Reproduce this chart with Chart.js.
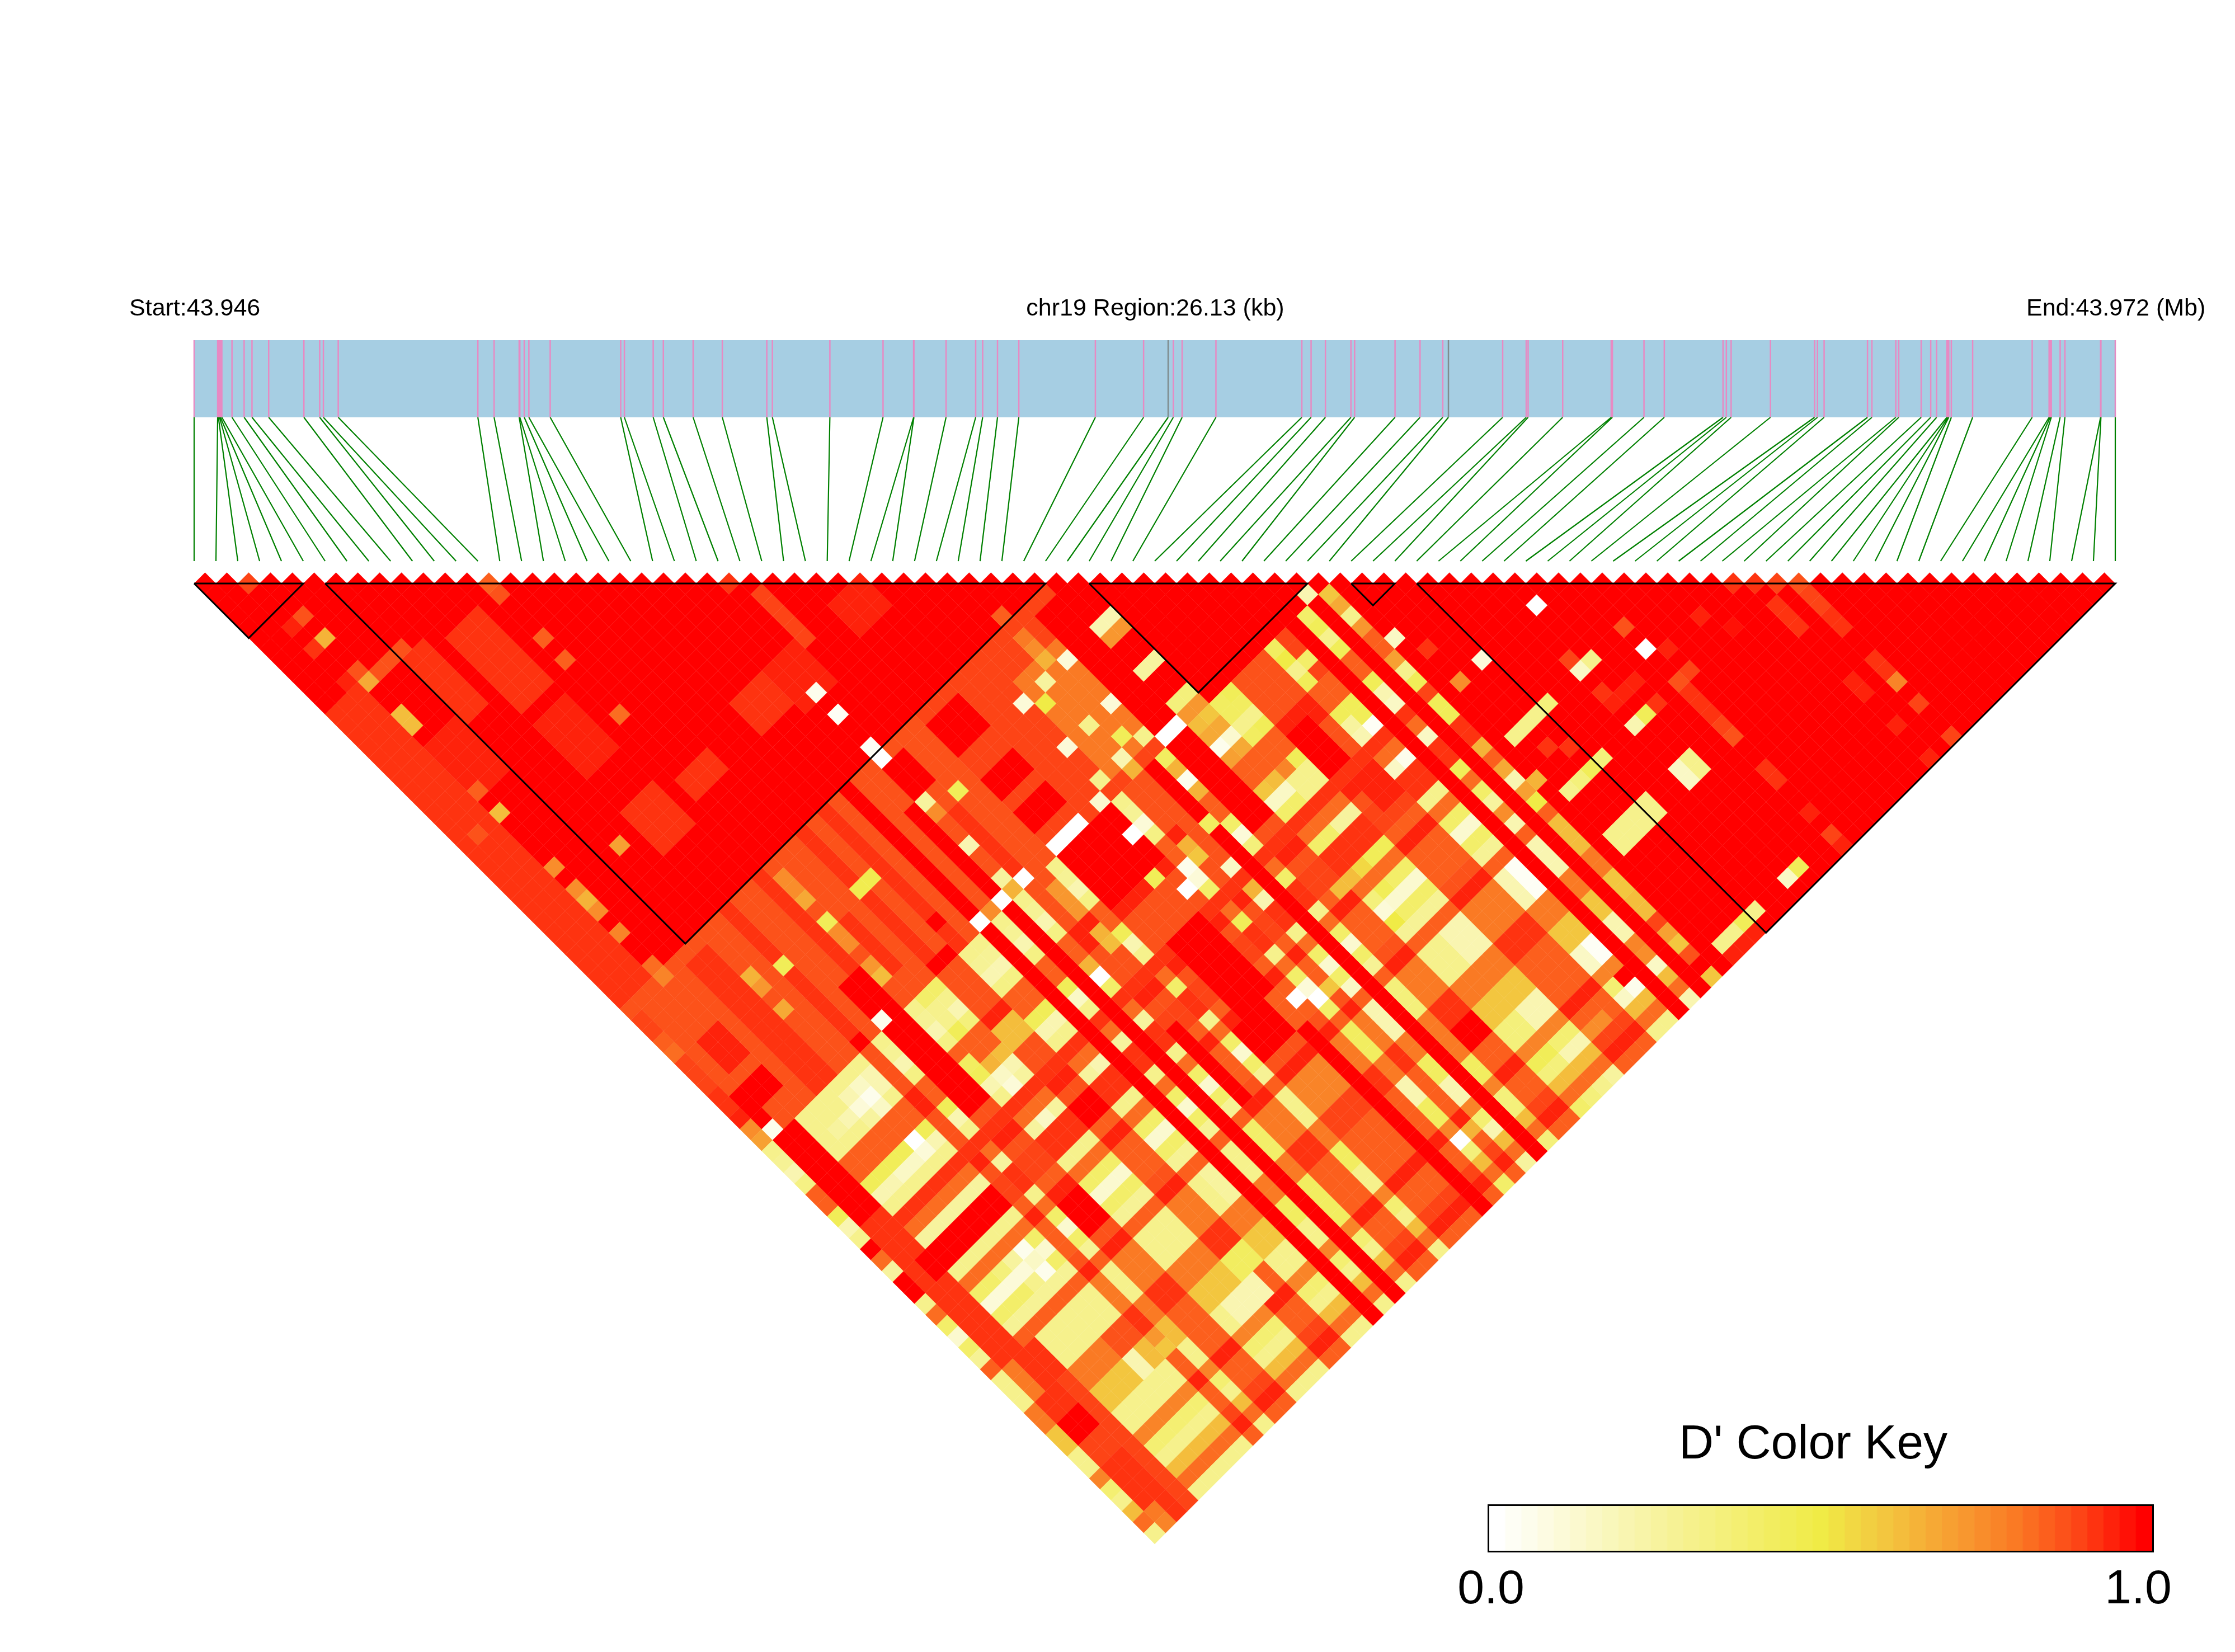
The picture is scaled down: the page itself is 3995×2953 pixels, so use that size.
<!DOCTYPE html>
<html>
<head>
<meta charset="utf-8">
<title>LD heatmap chr19</title>
<script src="https://cdn.jsdelivr.net/npm/chart.js@4"></script>
<style>
body { margin: 0; background: #fff; }
#wrap { position: relative; width: 3995px; height: 2953px; }
#ld { position: absolute; left: 0; top: 0; }
#key { position: absolute; left: 2659px; top: 2689px; border: 3px solid #000; }
</style>
</head>
<body>
<div id="wrap">
<canvas id="ld" width="3995" height="2953"></canvas>
<canvas id="key" width="1191" height="86"></canvas>
</div>
<script>
// SNP positions along the region, kb from the start
const snpKb = [0, .32, .33, .345, .358, .377, .515, .68, .787, 1.014, 1.493, 1.708, 1.758, 1.96, 3.859, 4.08, 4.421, 4.43, 4.49, 4.553,
  4.843, 5.802, 5.852, 6.244, 6.382, 6.787, 7.184, 7.789, 7.865, 8.647, 9.37, 9.786, 9.79, 10.227, 10.63, 10.725, 10.927, 11.217, 12.258, 12.914,
  13.248, 13.318, 13.438, 13.898, 15.066, 15.192, 15.387, 15.734, 15.784, 16.334, 16.674, 16.983, 17.06, 17.798, 18.118, 18.144, 18.614, 19.274, 19.29, 19.72,
  19.996, 20.795, 20.84, 20.905, 21.44, 22.04, 22.08, 22.17, 22.76, 22.82, 23.145, 23.185, 23.49, 23.62, 23.7, 23.84, 23.855, 23.865, 23.9, 24.19,
  25, 25.23, 25.245, 25.26, 25.38, 25.445, 25.93, 25.935, 26.13];
const regionKb = 26.13;
const greySnps = [40, 52];

// LD blocks, first and last SNP
const blocks = [[0, 5], [6, 39], [41, 51], [53, 55], [56, 88]];

// D' by SNP class, columns 53..88
const lowRows = [0, 3, 4, 5, 6, 7, 8, 10, 13, 14, 15, 18, 19, 21, 23, 26, 32, 34, 36, 39, 40, 41, 42, 46, 47, 49, 51];
const redRows = [1, 2, 20, 22, 35, 48, 50, 52];
const lowRowCols = [.3, .28, .2, .33, .85, .85, .45, .2, .3, .92, .82, .25, .92, .92, .3, .82, .4, .12, .4, .27, .85, .3, .3, .3, .8, .8, .6, .6, .3, .3, .78, .38, .3, .62, .82, .3];
const midRowCols = [.88, .88, .88, .88, .95, .95, .88, .88, .88, .93, .95, .88, .9, .9, .85, .95, .85, .85, .85, .88, .95, .8, .8, .8, .92, .92, .85, .85, .85, .85, .95, .85, .85, .9, .95, .85];

// rectangles of similar D': first row, last row, first col, last col, value
const ldPatches = [
  [0, 2, 13, 39, .93], [6, 7, 14, 19, .93], [9, 11, 15, 21, .93], [3, 5, 19, 23, .95], [9, 11, 23, 27, .95], [9, 11, 31, 34, .93], [13, 15, 32, 33, .92],
  [19, 21, 31, 33, .93], [22, 24, 31, 34, .95], [28, 30, 31, 33, .96], [25, 25, 27, 31, .9], [3, 6, 37, 39, 1],
  [0, 26, 40, 52, .88], [27, 38, 40, 52, .9], [33, 38, 43, 51, .8], [37, 40, 41, 52, 1], [27, 29, 41, 43, 1], [27, 29, 46, 47, 1], [27, 29, 49, 50, 1],
  [5, 6, 41, 52, .93], [9, 9, 40, 52, .93], [12, 12, 40, 52, .93], [16, 16, 40, 52, .93], [18, 18, 40, 52, .93], [14, 14, 46, 50, .93], [24, 24, 46, 52, .93],
  [20, 20, 40, 52, 1], [22, 22, 44, 52, 1], [23, 23, 41, 43, 1], [24, 24, 41, 43, 1], [16, 17, 52, 52, 1], [18, 18, 50, 50, 1], [1, 3, 49, 50, 1], [2, 3, 45, 47, .95], [11, 12, 49, 52, 1], [9, 9, 52, 52, 1],
  [0, 0, 40, 40, .88], [0, 0, 41, 42, .9], [0, 0, 43, 43, .85], [0, 0, 44, 44, .82], [0, 0, 45, 47, .9], [0, 0, 48, 49, .93], [0, 0, 50, 50, .95], [0, 0, 51, 51, .75], [0, 0, 52, 52, .7],
  [1, 2, 61, 88, .92], [1, 1, 74, 76, .8], [3, 3, 74, 76, .92], [3, 3, 77, 88, .9], [1, 3, 81, 82, .9], [1, 2, 79, 80, 1], [7, 8, 77, 78, .88],
  [7, 7, 79, 80, .2], [8, 8, 79, 80, .62], [9, 9, 79, 79, .72], [9, 9, 80, 80, .6], [10, 10, 79, 80, .62], [2, 8, 65, 66, 1], [16, 17, 65, 66, 1],
  [11, 12, 53, 60, 1], [11, 12, 69, 71, 1], [24, 24, 66, 72, 1], [30, 30, 72, 88, 1], [28, 30, 62, 68, 1],
  [25, 25, 54, 56, .72], [27, 31, 53, 57, 1], [37, 38, 53, 60, 1], [37, 38, 79, 80, 1], [34, 34, 53, 60, .88], [16, 17, 79, 80, .42], [14, 16, 81, 82, .2],
  [27, 29, 74, 76, .78], [27, 29, 77, 78, .9], [27, 29, 69, 71, 1], [44, 45, 63, 65, .96], [43, 44, 58, 61, 1], [43, 44, 85, 85, .75],
  [39, 40, 74, 76, .3], [41, 42, 74, 76, .2], [46, 46, 74, 76, .2], [47, 47, 74, 76, .02], [49, 49, 74, 76, .2], [32, 32, 74, 76, .42], [34, 34, 74, 76, .2], [36, 36, 74, 76, .35],
  [23, 23, 74, 76, .4], [19, 19, 74, 76, .25], [13, 15, 74, 76, .3], [26, 26, 74, 76, .3], [23, 23, 79, 82, .42], [21, 21, 79, 80, .42], [21, 21, 81, 82, .3],
  [26, 26, 79, 80, .42], [26, 26, 81, 82, .3], [32, 32, 79, 80, .2], [32, 32, 81, 82, .42], [34, 34, 79, 80, .43], [34, 34, 81, 82, .2], [36, 36, 79, 80, .8], [36, 36, 81, 82, .42],
  [41, 42, 81, 82, .2], [39, 40, 81, 82, .35], [46, 46, 81, 82, .15], [47, 47, 81, 82, .02], [49, 49, 81, 82, .2],
  [53, 56, 77, 78, .3], [51, 51, 74, 76, .63]
];

// single cells: row, col, value
const ldCells = [
  [2, 3, .9], [13, 14, .85], [24, 25, .92], [3, 7, .88], [2, 7, .95], [3, 9, .65], [2, 9, .93], [3, 13, .68], [3, 12, .88], [2, 12, .95], [2, 13, .93], [4, 13, .88], [5, 13, .88], [6, 13, .88],
  [3, 16, .63], [3, 17, .63], [3, 23, .85], [3, 25, .63], [1, 25, .88], [13, 15, .87], [13, 19, .85], [13, 21, .85], [13, 26, .82], [7, 32, .7], [3, 30, .75], [3, 32, .75], [3, 33, .65], [3, 34, .75], [3, 36, .78], [3, 39, .82], [3, 40, .78],
  [13, 41, .75], [13, 42, .75], [13, 43, .68], [13, 45, .45], [13, 46, .75], [13, 47, .75], [13, 49, .72], [13, 50, .62], [9, 45, .45], [7, 44, .65], [7, 45, .72], [7, 47, .68], [16, 45, .48], [17, 45, .48], [25, 45, .45], [23, 44, .25], [23, 45, .75],
  [23, 34, .05], [23, 36, .03], [23, 39, .03], [23, 40, 0], [23, 48, .2], [23, 51, .25], [23, 52, .65], [24, 52, 0], [22, 52, 0], [20, 52, 0], [21, 52, .75], [27, 52, 0], [28, 52, 0], [29, 52, 0], [37, 52, 0], [38, 52, 0], [31, 52, .12], [11, 52, .05], [1, 52, .05], [1, 51, 1],
  [32, 44, .1], [34, 44, .25], [36, 44, .1], [39, 44, .2], [40, 44, .2], [32, 48, .1], [34, 48, .3], [36, 48, .1], [39, 48, .25], [40, 48, .25], [39, 45, .72], [40, 45, .72], [35, 43, .65], [33, 45, .5], [35, 41, .8], [35, 42, .75], [35, 39, .85], [32, 51, .3], [34, 51, .2], [34, 52, .65], [35, 50, .45], [36, 51, .3], [39, 51, .35], [40, 51, .35], [39, 52, .72], [40, 52, .72], [50, 52, .2],
  [51, 53, .6], [51, 54, .68], [51, 55, .3], [51, 56, .72], [49, 53, .4], [49, 54, .45], [49, 55, .3], [49, 56, .45], [46, 53, .42], [46, 54, .5], [46, 55, .3], [46, 56, .45], [47, 53, .9], [47, 54, .9], [47, 55, .4], [47, 56, .9],
  [36, 53, .42], [36, 54, .65], [36, 55, .05], [36, 56, .65], [32, 55, .1], [30, 58, .45], [33, 58, .65], [33, 59, .6], [35, 58, .42], [36, 59, .4], [36, 60, .1], [36, 61, .35], [34, 61, .15], [34, 63, .65], [34, 64, .2], [32, 64, .45], [36, 64, .4], [32, 59, .05], [32, 60, .1], [32, 61, .4], [31, 60, 0], [31, 55, 0],
  [25, 58, .65], [25, 59, .62], [26, 59, .45], [26, 60, .2], [26, 61, .3], [23, 59, .65], [23, 60, 0], [23, 61, .4], [21, 59, .45], [21, 60, .15], [26, 64, .4],
  [42, 53, .45], [41, 53, .42], [40, 53, .6], [39, 53, .62], [42, 54, .42], [41, 54, .42], [40, 54, .68], [39, 54, .68], [42, 55, .3], [41, 55, .3], [40, 55, .12], [39, 55, .05], [42, 56, .45], [41, 56, .42], [40, 56, .68], [39, 56, .7],
  [42, 60, .3], [41, 60, .3], [40, 60, .15], [39, 60, .15], [40, 59, .62], [39, 59, .6], [41, 59, .78], [42, 61, .3], [41, 61, .3], [40, 61, .4], [39, 61, .4], [42, 64, .25], [41, 64, .25], [40, 64, .4], [39, 64, .4], [42, 67, .45], [41, 67, .45], [40, 67, .55], [39, 67, .62], [38, 67, .62],
  [47, 60, .45], [47, 61, .02], [46, 60, .25], [46, 61, .2], [49, 60, .2], [49, 61, .15], [49, 64, .15], [47, 64, .05], [46, 64, .15], [49, 67, .45], [52, 58, .15],
  [40, 69, .45], [39, 69, .35], [39, 70, .1], [39, 71, .5],
  [51, 59, .7], [51, 60, .3], [51, 61, .45], [51, 62, .9], [51, 63, .45], [51, 64, .45], [51, 67, .65], [51, 68, .85], [51, 69, .68], [51, 70, .2], [51, 71, .7], [51, 72, .5], [52, 71, .65], [51, 81, .62], [51, 82, .62], [51, 83, .9], [51, 84, .7], [51, 85, .6], [51, 86, .88], [51, 87, 1], [51, 88, .6],
  [49, 70, .25], [49, 71, .75], [49, 72, .2], [49, 73, .85], [47, 84, 1], [47, 85, .05], [46, 85, .15], [49, 84, .75], [49, 85, .15], [49, 88, .2],
  [31, 70, 0], [32, 71, 0], [32, 70, .1], [32, 72, .4], [33, 71, .6], [34, 72, .15],
  [42, 85, .2], [41, 85, .2], [40, 85, .35], [40, 84, .45], [39, 84, .45], [39, 85, .35], [42, 88, .25], [41, 88, .3], [40, 88, .35], [39, 88, .4], [36, 84, .35], [36, 85, .35], [34, 88, .25], [36, 88, .35], [32, 84, 0], [32, 85, .35], [32, 88, .4], [34, 85, .2], [33, 84, .65],
  [7, 53, .3], [6, 53, .3], [5, 53, .3], [4, 53, .3], [3, 53, .3], [7, 54, .15], [6, 54, .2], [5, 54, .3], [4, 54, .3], [3, 54, .3], [7, 55, .05], [6, 55, .1], [5, 55, .2], [4, 55, .25], [3, 55, .3], [7, 56, .15], [6, 56, .25], [5, 56, .3], [4, 56, .3], [3, 56, .3], [8, 53, .3], [8, 54, .2], [8, 55, .2], [8, 56, .3],
  [14, 53, .4], [14, 54, .3], [14, 55, .3], [14, 56, .45], [15, 53, .4], [15, 54, .3], [15, 55, .2], [15, 56, .35], [16, 58, .62], [17, 58, .62], [17, 59, .62], [16, 59, .62], [15, 59, .62], [14, 59, .65], [13, 58, .42],
  [15, 60, .2], [14, 60, .15], [15, 61, .25], [14, 61, .1], [15, 64, .25], [14, 64, .15], [19, 64, .2],
  [8, 59, .45], [8, 60, .2], [8, 61, .3], [7, 59, 0], [7, 60, .1], [7, 61, .3], [6, 59, .45], [6, 60, .15], [6, 61, .3], [5, 59, .45], [5, 60, .15], [5, 61, .3], [4, 59, .45], [4, 60, .2], [4, 61, .3],
  [7, 69, .05], [6, 69, .25], [5, 69, .35], [7, 70, .15], [6, 70, .1], [5, 70, .1], [4, 70, .1], [3, 70, .1], [7, 71, .05], [6, 71, .3], [1, 88, .78], [2, 88, .92], [0, 62, 1], [1, 87, .8], [0, 65, 1], [0, 66, 1],
  [60, 63, 0], [63, 68, .88], [63, 70, 0], [64, 71, .95], [59, 67, .9], [60, 68, .3], [59, 68, .15], [59, 70, .93], [60, 71, .95], [61, 71, .95], [59, 71, .95], [60, 73, .45], [59, 73, .2], [61, 73, .93], [64, 73, .9], [63, 73, .88],
  [63, 74, .93], [63, 75, .93], [63, 76, .93], [63, 77, .9], [63, 78, .88], [67, 71, .95], [68, 73, .97], [70, 71, .93], [71, 72, .93], [72, 73, .9], [73, 74, .88], [71, 74, .93], [71, 75, .93], [71, 76, .93], [73, 75, .9], [73, 76, .9], [73, 77, .93], [73, 78, .93],
  [73, 81, .92], [73, 82, .92], [73, 83, .78], [71, 81, .95], [71, 82, .95], [73, 85, .9], [71, 85, .95], [73, 88, .9], [71, 88, .95], [63, 85, .95], [63, 87, .9], [63, 88, .95], [63, 81, .93], [63, 82, .93],
  [60, 77, .3], [60, 78, .3], [59, 77, .15], [59, 78, .15], [60, 87, .45], [59, 87, .15], [56, 87, .3], [55, 87, .45], [54, 87, .3], [53, 87, .3], [55, 88, .95], [54, 88, .95], [53, 88, .95],
  [56, 73, .35], [55, 73, .45], [54, 73, .35], [53, 73, .3], [56, 68, .35], [55, 68, .3], [54, 68, .3], [53, 68, .3], [55, 63, .1], [53, 63, .75], [53, 60, .93], [54, 70, .93], [55, 71, .93]
];

const keySteps = Array.from({ length: 41 }, (_, k) => k / 40);
const keyAnchors = [[0, [255, 255, 255]], [.25, [247, 243, 158]], [.5, [240, 235, 70]], [.6, [243, 198, 63]], [.7, [247, 160, 50]], [.8, [250, 122, 36]], [.9, [253, 68, 22]], [1, [255, 0, 0]]];

const textLabels = [
  { text: "Start:43.946", x: 231, y: 564, size: 43, align: "left" },
  { text: "chr19 Region:26.13 (kb)", x: 2065, y: 564, size: 43, align: "center" },
  { text: "End:43.972 (Mb)", x: 3622, y: 564, size: 43, align: "left" },
  { text: "D' Color Key", x: 3241, y: 2607, size: 86, align: "center" },
  { text: "0.0", x: 2665, y: 2866, size: 86, align: "center" },
  { text: "1.0", x: 3822, y: 2866, size: 86, align: "center" }
];

function heat(v) {
  const step = Math.round(v * 40) / 40;
  let a = keyAnchors[0], b = keyAnchors[keyAnchors.length - 1];
  for (let k = 0; k < keyAnchors.length - 1; k++) {
    if (step >= keyAnchors[k][0] && step <= keyAnchors[k + 1][0]) { a = keyAnchors[k]; b = keyAnchors[k + 1]; break; }
  }
  const t = (step - a[0]) / (b[0] - a[0] || 1);
  const c = a[1].map((p, n) => Math.round(p + (b[1][n] - p) * t));
  return "rgb(" + c.join(",") + ")";
}

// D' matrix, row < col
const n = snpKb.length;
const ld = [];
for (let i = 0; i < n; i++) ld.push(new Array(n).fill(1));
for (let i = 0; i <= 52; i++) {
  for (let j = Math.max(53, i + 1); j < n; j++) {
    if (redRows.includes(i)) continue;
    ld[i][j] = lowRows.includes(i) ? lowRowCols[j - 53] : midRowCols[j - 53];
  }
}
ldPatches.forEach(([r0, r1, c0, c1, v]) => {
  for (let i = r0; i <= r1; i++) for (let j = Math.max(c0, i + 1); j <= c1; j++) ld[i][j] = v;
});
ldCells.forEach(([i, j, v]) => { ld[i][j] = v; });

// layout in page pixels
const triTop = 1043, rowStep = 19.51, barTop = 608, barBottom = 746, fanBottom = 1003;
const cellY = d => triTop + (d - 1) * rowStep;
const kbToIndex = kb => kb / regionKb * (n - 1);

const cellData = [];
const cellColors = [];
for (let i = 0; i < n; i++) {
  for (let j = i + 1; j < n; j++) {
    cellData.push({ x: (i + j) / 2, y: cellY(j - i) });
    cellColors.push(heat(ld[i][j]));
  }
}

const gap = { x: NaN, y: NaN };
const pinkTicks = [], greyTicks = [], fanLines = [], blockLines = [];
snpKb.forEach((kb, k) => {
  const tick = [{ x: kbToIndex(kb), y: barTop }, { x: kbToIndex(kb), y: barBottom }, gap];
  (greySnps.includes(k) ? greyTicks : pinkTicks).push(...tick);
  fanLines.push({ x: kbToIndex(kb), y: barBottom }, { x: k, y: fanBottom }, gap);
});
blocks.forEach(([a, b]) => {
  blockLines.push({ x: a, y: triTop }, { x: b, y: triTop }, { x: (a + b) / 2, y: triTop + (b - a) * rowStep }, { x: a, y: triTop }, gap);
});

const lineSet = (data, color, width, order) => ({
  type: "line", data: data, borderColor: color, borderWidth: width, pointRadius: 0, tension: 0,
  fill: false, spanGaps: false, borderCapStyle: "butt", order: order, clip: false
});

const textPlugin = {
  id: "textLabels",
  afterDraw(chart) {
    const ctx = chart.ctx;
    ctx.save();
    ctx.fillStyle = "#000";
    ctx.textBaseline = "alphabetic";
    textLabels.forEach(l => {
      ctx.font = l.size + "px 'Liberation Sans'";
      ctx.textAlign = l.align;
      ctx.fillText(l.text, l.x, l.y);
    });
    ctx.restore();
  }
};

new Chart(document.getElementById("ld"), {
  type: "scatter",
  data: {
    datasets: [
      lineSet(blockLines, "#000", 3, 0),
      lineSet(greyTicks, "#7F8C8D", 2.5, 1),
      lineSet(pinkTicks, "#E78AC3", 2.5, 2),
      lineSet([{ x: 0, y: (barTop + barBottom) / 2 }, { x: n - 1, y: (barTop + barBottom) / 2 }], "#A6CEE3", barBottom - barTop, 3),
      lineSet(fanLines, "#008000", 2.2, 4),
      {
        data: cellData, pointStyle: "rectRot", pointRadius: rowStep, pointBackgroundColor: cellColors,
        pointBorderColor: cellColors, pointBorderWidth: .4, order: 5, clip: false
      }
    ]
  },
  options: {
    responsive: false, animation: false, devicePixelRatio: 1,
    layout: { autoPadding: false, padding: { left: 347, right: 214, top: 0, bottom: 0 } },
    plugins: { legend: { display: false }, tooltip: { enabled: false } },
    scales: {
      x: { type: "linear", min: 0, max: n - 1, display: false },
      y: { type: "linear", min: 0, max: 2953, reverse: true, display: false }
    }
  },
  plugins: [textPlugin]
});

new Chart(document.getElementById("key"), {
  type: "bar",
  data: {
    labels: keySteps,
    datasets: [{ data: keySteps.map(() => 1), backgroundColor: keySteps.map(heat), barPercentage: 1, categoryPercentage: 1 }]
  },
  options: {
    responsive: false, animation: false, devicePixelRatio: 1,
    layout: { autoPadding: false },
    plugins: { legend: { display: false }, tooltip: { enabled: false } },
    scales: { x: { display: false }, y: { display: false, min: 0, max: 1 } }
  }
});
</script>
</body>
</html>
